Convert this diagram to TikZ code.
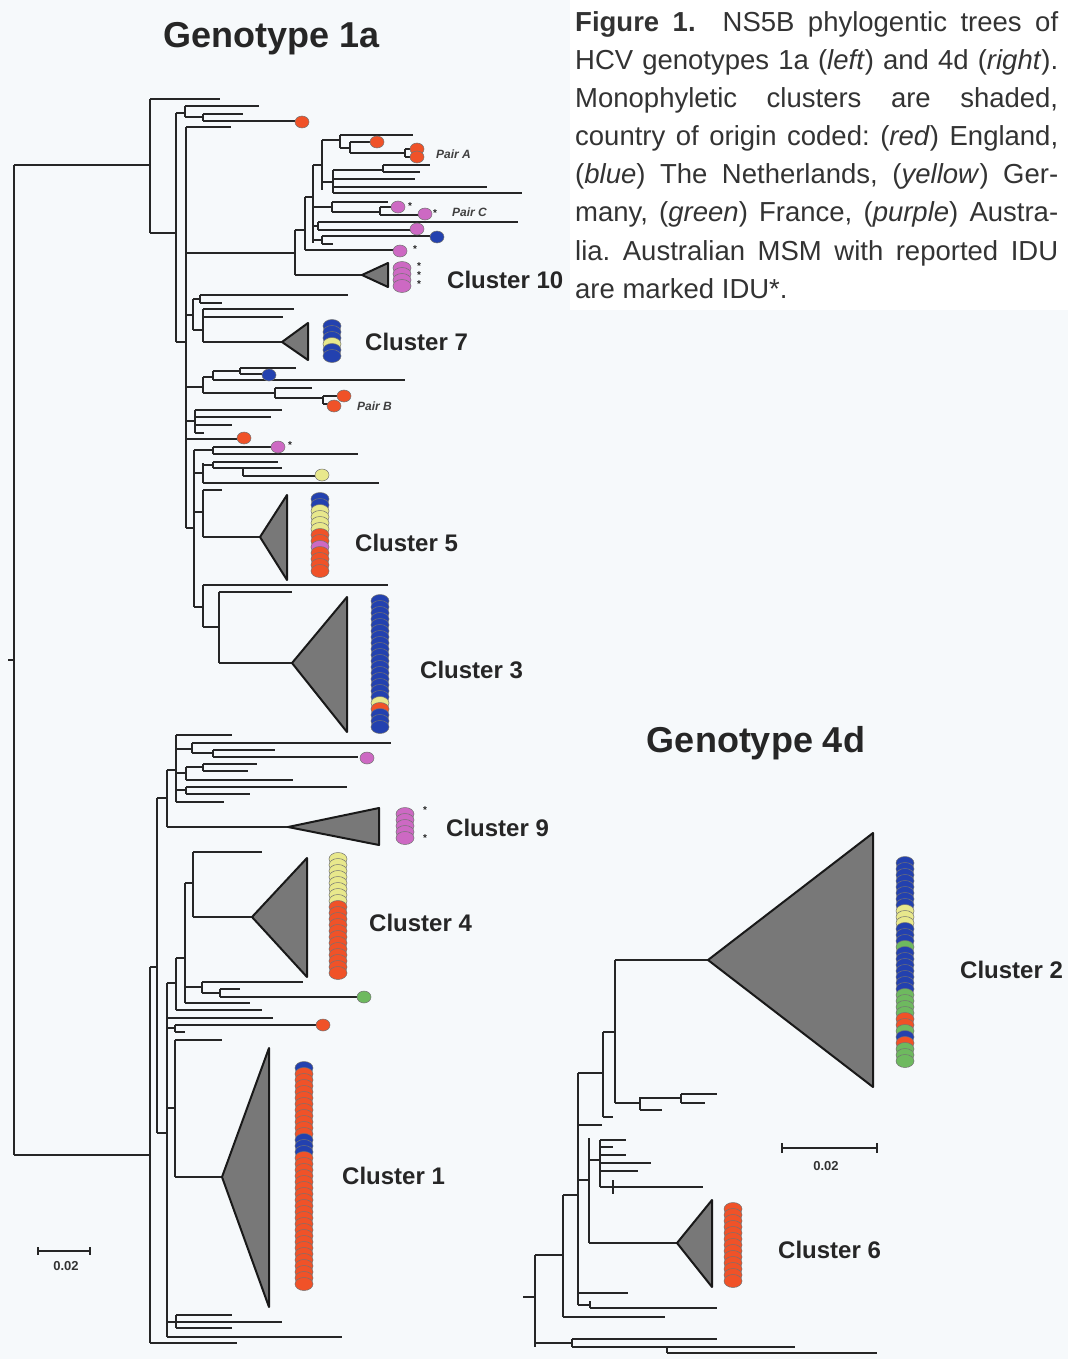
\documentclass[tikz,border=0pt]{standalone}
\usepackage{fontspec}
\setmainfont{Liberation Sans}

\definecolor{paper}{RGB}{246,249,251}
\definecolor{cladegray}{RGB}{120,120,120}
\definecolor{cr}{RGB}{240,82,40}
\definecolor{cb}{RGB}{35,65,175}
\definecolor{cy}{RGB}{232,232,140}
\definecolor{cg}{RGB}{110,185,95}
\definecolor{cp}{RGB}{205,105,195}

\tikzset{
  branch/.style={line width=1.6pt, draw=black!85},
  stem/.style={line width=2.8pt, draw=black!85},
  clade/.style={draw=black!90, fill=cladegray, line width=2pt, line join=round},
  tipdot/.style={draw=black!55, line width=0.5pt},
  cluster/.style={font=\fontsize{24}{28}\selectfont\bfseries, text=black!85, inner sep=0pt, anchor=base west},
  pair/.style={font=\fontsize{12}{14}\selectfont\bfseries\itshape, text=black!75, inner sep=0pt, anchor=base west},
  idu/.style={font=\fontsize{10}{12}\selectfont\bfseries, text=black!85, inner sep=0pt},
  title/.style={font=\fontsize{36}{40}\selectfont\bfseries, text=black!85, inner sep=0pt, anchor=base},
  scalelbl/.style={font=\fontsize{13}{15}\selectfont\bfseries, text=black!80, inner sep=0pt},
  captionline/.style={font=\fontsize{27.5}{33}\selectfont\frenchspacing, text=black!80, inner sep=0pt, anchor=base west},
}

\begin{document}
\begin{tikzpicture}[x=1pt, y=-1pt]
    % Page
    \fill[paper] (0,0) rectangle (1068,1359);
    \fill[white] (570,0) rectangle (1068,310);
    \useasboundingbox (0,0) rectangle (1068,1359);

    % Caption
    \node[captionline] (cap1) at (575,32) {\makebox[483pt][s]{\textbf{Figure 1.}\ \ NS5B phylogentic trees of}};
    \node[captionline] (cap2) at (575,70) {\makebox[483pt][s]{HCV genotypes 1a (\textit{left}) and 4d (\textit{right}).}};
    \node[captionline] (cap3) at (575,108) {\makebox[483pt][s]{Monophyletic clusters are shaded,}};
    \node[captionline] (cap4) at (575,146) {\makebox[483pt][s]{country of origin coded: (\textit{red}) England,}};
    \node[captionline] (cap5) at (575,184) {\makebox[483pt][s]{(\textit{blue}) The Netherlands, (\textit{yellow}) Ger-}};
    \node[captionline] (cap6) at (575,222) {\makebox[483pt][s]{many, (\textit{green}) France, (\textit{purple}) Austra-}};
    \node[captionline] (cap7) at (575,260) {\makebox[483pt][s]{lia. Australian MSM with reported IDU}};
    \node[captionline] (cap8) at (575,298) {are marked IDU*.};

    % Titles
    \node[title] (g1a) at (272,48) {Genotype 1a};
    \node[title] (g4d) at (756,752) {Genotype 4d};

    % Genotype 1a : root
    \draw[stem] (14,165) -- (14,1155);
    \draw[branch] (8,660) -- (14,660) (14,165) -- (150,165) (14,1155) -- (150,1155);

    % Genotype 1a : upper clade, top
    \draw[stem] (150,99) -- (150,233) (176,113) -- (176,342) (185,106) -- (185,117)
        (203,114) -- (203,121) (186,127) -- (186,528);
    \draw[branch] (150,99) -- (220,99) (150,233) -- (176,233) (176,113) -- (185,113)
        (185,106) -- (259,106) (185,117) -- (203,117) (203,114) -- (243,114)
        (203,121) -- (295,121) (176,342) -- (186,342) (186,127) -- (231,127);

    % Cluster 10 clade (pairs A and C)
    \draw[stem] (295,230) -- (295,275) (305,197) -- (305,250) (313,165) -- (313,243)
        (318,222) -- (318,230) (322,236) -- (322,244) (332,202) -- (332,212)
        (380,207) -- (380,215) (322,140) -- (322,190) (333,170) -- (333,193)
        (383,165) -- (383,172) (340,135) -- (340,148) (350,142) -- (350,153)
        (405,149) -- (405,157);
    \draw[branch] (186,253) -- (295,253) (295,275) -- (362,275) (295,230) -- (305,230)
        (305,250) -- (395,250) (305,197) -- (313,197) (313,226) -- (318,226)
        (318,222) -- (518,222) (318,230) -- (411,230) (313,240) -- (322,240)
        (322,236) -- (430,236) (322,244) -- (333,244) (313,207) -- (332,207)
        (332,202) -- (388,202) (332,212) -- (380,212) (380,207) -- (392,207)
        (380,215) -- (419,215) (313,165) -- (322,165) (322,182) -- (333,182)
        (333,170) -- (383,170) (383,165) -- (430,165) (383,172) -- (420,172)
        (333,179) -- (415,179) (333,187) -- (487,187) (333,193) -- (522,193)
        (322,140) -- (340,140) (340,135) -- (413,135) (340,148) -- (350,148)
        (350,142) -- (371,142) (350,153) -- (405,153) (405,149) -- (411,149)
        (405,157) -- (411,157);

    % Cluster 7 clade
    \draw[stem] (193,299) -- (193,330) (200,295) -- (200,303) (203,309) -- (203,342);
    \draw[branch] (186,315) -- (193,315) (193,299) -- (200,299) (200,295) -- (348,295)
        (200,303) -- (222,303) (193,330) -- (203,330) (203,309) -- (294,309)
        (203,317) -- (283,317) (203,342) -- (282,342);

    % Pair B clade
    \draw[stem] (203,377) -- (203,393) (213,371) -- (213,380) (240,368) -- (240,374)
        (275,388) -- (275,398) (323,396) -- (323,404) (195,410) -- (195,433);
    \draw[branch] (186,387) -- (203,387) (203,377) -- (213,377) (213,371) -- (240,371)
        (240,368) -- (296,368) (240,374) -- (262,374) (213,380) -- (405,380)
        (203,393) -- (275,393) (275,388) -- (312,388) (275,398) -- (323,398)
        (323,396) -- (337,396) (323,404) -- (328,404)
        (186,421) -- (195,421) (195,410) -- (282,410) (195,417) -- (271,417)
        (195,425) -- (232,425) (195,433) -- (204,433) (186,439) -- (237,439);

    % Clusters 5 and 3
    \draw[stem] (194,450) -- (194,607) (213,447) -- (213,454) (203,463) -- (203,483)
        (213,462) -- (213,468) (243,468) -- (243,476) (203,490) -- (203,537)
        (203,585) -- (203,627) (219,592) -- (219,663);
    \draw[branch] (186,528) -- (194,528) (194,450) -- (213,450) (213,447) -- (271,447)
        (213,454) -- (358,454) (194,473) -- (203,473) (203,465) -- (213,465)
        (213,462) -- (278,462) (213,468) -- (282,468) (243,476) -- (315,476)
        (203,483) -- (379,483) (194,512) -- (203,512) (203,490) -- (222,490)
        (203,537) -- (260,537) (194,607) -- (203,607) (203,585) -- (388,585)
        (203,627) -- (219,627) (219,592) -- (292,592) (219,663) -- (292,663);

    % Genotype 1a : lower clade (clusters 9, 4, 1)
    \draw[stem] (150,967) -- (150,1343) (157,798) -- (157,1133) (167,770) -- (167,827)
        (176,735) -- (176,802) (192,743) -- (192,753) (213,750) -- (213,757)
        (186,767) -- (186,780) (203,764) -- (203,771) (186,787) -- (186,794)
        (167,983) -- (167,1337) (176,958) -- (176,1010) (185,883) -- (185,1003)
        (193,852) -- (193,917) (202,982) -- (202,993) (220,989) -- (220,997)
        (175,1025) -- (175,1032) (175,1040) -- (175,1177) (176,1315) -- (176,1328);
    \draw[branch] (150,967) -- (157,967) (157,798) -- (167,798) (167,827) -- (288,827)
        (167,770) -- (176,770) (176,735) -- (232,735) (176,749) -- (192,749)
        (192,743) -- (391,743) (192,753) -- (213,753) (213,750) -- (275,750)
        (213,757) -- (358,757) (176,773) -- (186,773) (186,767) -- (203,767)
        (203,764) -- (257,764) (203,771) -- (248,771) (186,780) -- (293,780)
        (176,790) -- (186,790) (186,787) -- (347,787) (186,794) -- (250,794)
        (176,802) -- (224,802) (157,1133) -- (167,1133) (167,983) -- (176,983)
        (176,958) -- (185,958) (185,883) -- (193,883) (193,852) -- (262,852)
        (193,917) -- (252,917) (185,987) -- (202,987) (202,982) -- (303,982)
        (202,993) -- (220,993) (220,989) -- (240,989) (220,997) -- (357,997)
        (185,1003) -- (250,1003) (176,1010) -- (262,1010) (167,1018) -- (273,1018)
        (167,1028) -- (175,1028) (175,1025) -- (316,1025) (175,1032) -- (185,1032)
        (167,1108) -- (175,1108) (175,1040) -- (222,1040) (175,1177) -- (222,1177)
        (167,1322) -- (176,1322) (176,1315) -- (232,1315) (176,1322) -- (282,1322)
        (176,1328) -- (232,1328) (167,1337) -- (342,1337) (150,1343) -- (237,1343);

    % Genotype 4d tree
    \draw[stem] (535,1255) -- (535,1347) (563,1195) -- (563,1317) (578,1073) -- (578,1305)
        (603,1032) -- (603,1117) (615,960) -- (615,1103) (640,1097) -- (640,1110)
        (681,1094) -- (681,1103) (589,1138) -- (589,1243) (600,1140) -- (600,1187)
        (613,1180) -- (613,1194) (590,1301) -- (590,1308) (572,1339) -- (572,1347)
        (667,1347) -- (667,1353);
    \draw[branch] (523,1297) -- (535,1297) (535,1255) -- (563,1255) (563,1195) -- (578,1195)
        (563,1317) -- (665,1317) (578,1073) -- (603,1073) (603,1032) -- (615,1032)
        (615,960) -- (708,960) (615,1103) -- (640,1103) (640,1098) -- (681,1098)
        (681,1094) -- (717,1094) (681,1103) -- (705,1103) (640,1110) -- (662,1110)
        (603,1117) -- (613,1117) (578,1125) -- (602,1125) (578,1180) -- (589,1180)
        (589,1160) -- (600,1160) (600,1140) -- (626,1140) (600,1147) -- (613,1147)
        (600,1155) -- (626,1155) (600,1163) -- (651,1163) (600,1171) -- (638,1171)
        (600,1187) -- (703,1187) (589,1243) -- (677,1243) (578,1293) -- (628,1293)
        (578,1305) -- (590,1305) (590,1308) -- (717,1308) (535,1343) -- (572,1343)
        (572,1339) -- (717,1339) (572,1347) -- (795,1347) (667,1353) -- (877,1353);

    % Collapsed clusters
    \draw[clade] (362,275) -- (388,263) -- (388,287) -- cycle;
    \draw[clade] (282,342) -- (308,323) -- (308,360) -- cycle;
    \draw[clade] (260,537) -- (287,495) -- (287,580) -- cycle;
    \draw[clade] (292,663) -- (347,597) -- (347,732) -- cycle;
    \draw[clade] (288,827) -- (379,808) -- (379,845) -- cycle;
    \draw[clade] (252,917) -- (307,858) -- (307,977) -- cycle;
    \draw[clade] (222,1177) -- (269,1048) -- (269,1307) -- cycle;
    \draw[clade] (708,960) -- (873,833) -- (873,1087) -- cycle;
    \draw[clade] (677,1243) -- (712,1200) -- (712,1287) -- cycle;

    % Country stacks (x / first y / count / colour)
    \foreach \x/\y/\n/\c in {
        402/268/4/cp,
        332/326/3/cb, 332/344/1/cy, 332/350/2/cb,
        320/499/2/cb, 320/511/4/cy, 320/535/2/cr, 320/547/1/cp, 320/553/4/cr,
        380/601/17/cb, 380/703/1/cy, 380/709/1/cr, 380/715/3/cb,
        405/814/5/cp,
        338/859/8/cy, 338/907/12/cr,
        304/1068/1/cb, 304/1074/11/cr, 304/1140/3/cb, 304/1158/22/cr,
        905/863/8/cb, 905/911/3/cy, 905/929/3/cb, 905/947/1/cg, 905/953/7/cb,
        905/995/4/cg, 905/1019/2/cr, 905/1031/1/cg, 905/1037/1/cb, 905/1043/1/cr,
        905/1049/3/cg,
        733/1209/13/cr}
        \foreach \k in {1,...,\n}
            \draw[tipdot, fill=\c] (\x,\y+6*\k-6) ellipse [x radius=9pt, y radius=6.5pt];

    % Single sequences
    \foreach \x/\y/\c in {302/122/cr, 377/142/cr, 417/149/cr, 417/157/cr, 398/207/cp,
        425/214/cp, 417/229/cp, 437/237/cb, 400/251/cp, 269/375/cb, 344/396/cr,
        334/406/cr, 244/438/cr, 278/447/cp, 322/475/cy, 367/758/cp, 364/997/cg,
        323/1025/cr}
        \draw[tipdot, fill=\c] (\x,\y) ellipse [x radius=7pt, y radius=6pt];

    % IDU marks
    \foreach \x/\y [count=\k] in {410/206, 435/213, 415/249, 419/266, 419/275, 419/284,
        290/445, 425/810, 425/838}
        \node[idu] (idu\k) at (\x,\y) {*};

    % Labels
    \node[pair] (pairA) at (436,159) {Pair A};
    \node[pair] (pairC) at (452,216) {Pair C};
    \node[pair] (pairB) at (357,410) {Pair B};

    \node[cluster] (c10) at (447,288) {Cluster 10};
    \node[cluster] (c7) at (365,350) {Cluster 7};
    \node[cluster] (c5) at (355,551) {Cluster 5};
    \node[cluster] (c3) at (420,678) {Cluster 3};
    \node[cluster] (c9) at (446,836) {Cluster 9};
    \node[cluster] (c4) at (369,931) {Cluster 4};
    \node[cluster] (c1) at (342,1184) {Cluster 1};
    \node[cluster] (c2) at (960,978) {Cluster 2};
    \node[cluster] (c6) at (778,1258) {Cluster 6};

    % Scale bars
    \draw[branch] (38,1251) -- (90,1251) (38,1247) -- (38,1255) (90,1247) -- (90,1255);
    \node[scalelbl] (bar1a) at (66,1266) {0.02};
    \draw[branch, line width=1.8pt] (782,1148) -- (877,1148) (782,1143) -- (782,1153) (877,1143) -- (877,1153);
    \node[scalelbl] (bar4d) at (826,1166) {0.02};
\end{tikzpicture}
\end{document}
